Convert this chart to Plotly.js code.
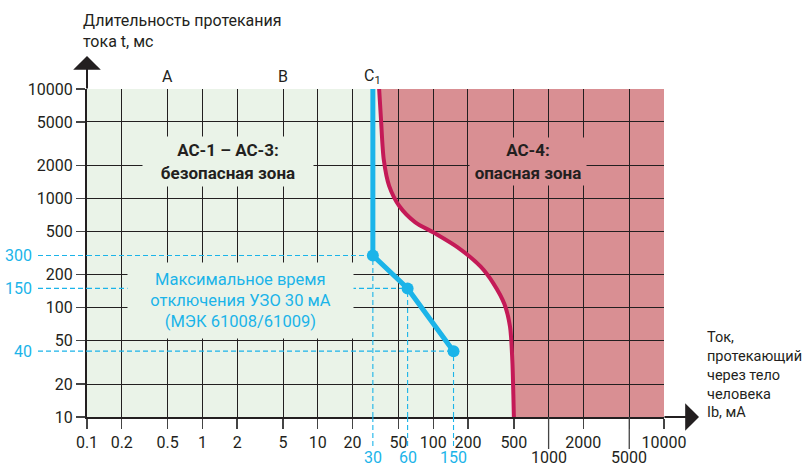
<!DOCTYPE html>
<html><head><meta charset="utf-8">
<script src="https://cdn.plot.ly/plotly-3.0.1.min.js"></script>
<style>html,body{margin:0;padding:0;background:#fff}#chart{width:803px;height:466px}</style>
</head><body><div id="chart"></div>
<script>
// ---- data ----
const xTickVals = [0.1, 0.2, 0.5, 1, 2, 5, 10, 20, 50, 100, 200, 500, 1000, 2000, 5000, 10000];
const xTickText = ['0.1', '0.2', '0.5', '1', '2', '5', '10', '20', '50', '100', '200', '500', '', '2000', '', '10000'];
const lowTickVals = [1000, 5000];
const lowTickText = ['1000', '5000'];
const yTickVals = [10, 20, 50, 100, 200, 500, 1000, 2000, 5000, 10000];
const yTickText = ['10', '20', '50', '100', '200', '500', '1000', '2000', '5000', '10000'];
const c1Current = [34, 35.3, 37.3, 41.5, 51, 70, 102, 163, 258, 332, 414, 463, 485, 495, 500];
const c1Time = [10000, 5250, 2250, 1300, 846, 603, 483, 356, 237, 167, 108, 67, 33, 16, 10];
const rcdCurrent = [30, 30, 60, 150];
const rcdTime = [10000, 300, 150, 40];
const markCurrent = [30, 60, 150];
const markTime = [300, 150, 40];
const markCurrentText = ['30', '60', '150'];
const markTimeText = ['300', '150', '40'];
const zoneLabelText = ['A', 'B', 'C<sub>1</sub>'];
const zoneLabelX = [0.5, 5, 30];
const X_RANGE = [0.1, 10000];
const Y_RANGE = [10, 10000];

// ---- style ----
const FONT = 'Roboto, "Liberation Sans", sans-serif';
const DARK = '#231f20';
const CYAN = '#1bb4e9';
const CRIMSON = '#c41a57';
const GREEN_BG = '#eaf3e8';
const RED_BG = '#d98f93';
const M = {l: 87, r: 139, t: 89, b: 49};
const PW = 803 - M.l - M.r, PH = 466 - M.t - M.b;
const px2x = px => (px - M.l) / PW;
const py2y = py => (466 - M.b - py) / PH;

const traces = [
  {x: c1Current, y: c1Time, mode: 'lines', line: {color: CRIMSON, width: 4, shape: 'spline', smoothing: 0.8}, hoverinfo: 'skip'},
  {x: rcdCurrent, y: rcdTime, mode: 'lines', line: {color: CYAN, width: 5}, hoverinfo: 'skip'},
  {x: markCurrent, y: markTime, mode: 'markers', marker: {color: CYAN, size: 12}, cliponaxis: false, hoverinfo: 'skip'}
];

// red (dangerous) zone to the right of curve c1
let zonePath = 'M' + c1Current[0] + ',' + Y_RANGE[1];
for (let i = 0; i < c1Current.length; i++) zonePath += ' L' + c1Current[i] + ',' + c1Time[i];
zonePath += ' L' + X_RANGE[1] + ',' + Y_RANGE[0] + ' L' + X_RANGE[1] + ',' + Y_RANGE[1] + ' Z';

const dash = {color: CYAN, width: 1.1, dash: '5px,3px'};
const shapes = [
  {type: 'path', xref: 'x', yref: 'y', path: zonePath, fillcolor: RED_BG, line: {width: 0}, layer: 'below'}
];
markCurrent.forEach((c, i) => {
  const t = markTime[i];
  shapes.push({type: 'line', xref: 'x', yref: 'y', x0: X_RANGE[0], x1: c, y0: t, y1: t, line: dash, layer: 'above'});
  shapes.push({type: 'line', xref: 'paper', yref: 'y', x0: px2x(38), x1: 0, y0: t, y1: t, line: dash, layer: 'above'});
  shapes.push({type: 'line', xref: 'x', yref: 'y', x0: c, x1: c, y0: Y_RANGE[0], y1: t, line: dash, layer: 'above'});
  shapes.push({type: 'line', xref: 'x', yref: 'paper', x0: c, x1: c, y0: 0, y1: py2y(448), line: dash, layer: 'above'});
});
lowTickVals.forEach(v => {
  shapes.push({type: 'line', xref: 'x', yref: 'paper', x0: v, x1: v, y0: 0, y1: py2y(449), line: {color: '#444', width: 1.3}});
});

const annotations = [];
// axis arrows
annotations.push({xref: 'paper', yref: 'paper', x: 0, y: py2y(56), ax: 0, ay: 34, text: '', showarrow: true,
  arrowhead: 1, arrowsize: 2.3, arrowwidth: 2, arrowcolor: DARK});
annotations.push({xref: 'paper', yref: 'paper', x: px2x(699), y: 0, ax: -36, ay: 0, text: '', showarrow: true,
  arrowhead: 1, arrowsize: 2.3, arrowwidth: 2, arrowcolor: DARK});
// y axis title (top left)
annotations.push({xref: 'paper', yref: 'paper', x: px2x(81), y: py2y(31), xanchor: 'left', yanchor: 'middle', align: 'left',
  showarrow: false, text: 'Длительность протекания<br>тока t, мс', font: {size: 16, color: DARK}});
// x axis title
annotations.push({xref: 'paper', yref: 'paper', x: px2x(705), y: py2y(375), xanchor: 'left', yanchor: 'middle', align: 'left',
  showarrow: false, text: 'Ток,<br>протекающий<br>через тело<br>человека<br>Ib, мА', font: {size: 14.5, color: DARK}});
// second-row tick labels
lowTickVals.forEach((v, i) => {
  annotations.push({xref: 'x', yref: 'paper', x: Math.log10(v), y: py2y(457), xanchor: 'center', yanchor: 'middle',
    showarrow: false, text: lowTickText[i], font: {size: 16, color: DARK}});
});
// zone labels at top
zoneLabelText.forEach((t, i) => {
  annotations.push({xref: 'x', yref: 'paper', x: Math.log10(zoneLabelX[i]), y: py2y(76), xanchor: 'center', yanchor: 'middle',
    showarrow: false, text: t, font: {size: 16, color: DARK}});
});
// cyan value labels
markTime.forEach((t, i) => {
  annotations.push({xref: 'paper', yref: 'y', x: px2x(34), y: Math.log10(t), xanchor: 'right', yanchor: 'middle',
    showarrow: false, text: markTimeText[i], font: {size: 16, color: CYAN}});
});
markCurrent.forEach((c, i) => {
  annotations.push({xref: 'x', yref: 'paper', x: Math.log10(c), y: py2y(457), xanchor: 'center', yanchor: 'middle',
    showarrow: false, text: markCurrentText[i], font: {size: 16, color: CYAN}});
});
// zone text boxes
annotations.push({xref: 'paper', yref: 'paper', x: px2x(228), y: py2y(161), xanchor: 'center', yanchor: 'middle',
  showarrow: false, width: 166, height: 45, borderpad: 2, bgcolor: GREEN_BG,
  text: '<b>AC-1 – AC-3:</b><br><b>безопасная зона</b>', font: {size: 17, color: DARK}});
annotations.push({xref: 'paper', yref: 'paper', x: px2x(528), y: py2y(161.5), xanchor: 'center', yanchor: 'middle',
  showarrow: false, width: 112, height: 43, borderpad: 2, bgcolor: RED_BG,
  text: '<b>AC-4:</b><br><b>опасная зона</b>', font: {size: 17, color: DARK}});
annotations.push({xref: 'paper', yref: 'paper', x: px2x(240), y: py2y(300.5), xanchor: 'center', yanchor: 'middle',
  showarrow: false, width: 221, height: 71, borderpad: 2, bgcolor: GREEN_BG,
  text: 'Максимальное время<br>отключения УЗО 30 мА<br>(МЭК 61008/61009)', font: {size: 16.5, color: CYAN}});

const axisCommon = {
  type: 'log', showgrid: true, gridcolor: DARK, gridwidth: 1, showline: true, linecolor: DARK, linewidth: 2,
  zeroline: false, ticks: 'outside', tickcolor: '#444', tickwidth: 1.3, fixedrange: true,
  tickfont: {size: 16, color: DARK}
};

const layout = {
  width: 803, height: 466, margin: {l: M.l, r: M.r, t: M.t, b: M.b, pad: 0},
  paper_bgcolor: '#ffffff', plot_bgcolor: GREEN_BG, showlegend: false,
  font: {family: FONT, size: 16, color: DARK},
  xaxis: Object.assign({}, axisCommon, {range: X_RANGE.map(Math.log10), tickvals: xTickVals, ticktext: xTickText,
    tickangle: 0, ticklen: 10}),
  yaxis: Object.assign({}, axisCommon, {range: Y_RANGE.map(Math.log10), tickvals: yTickVals, ticktext: yTickText,
    ticklen: 9}),
  shapes: shapes, annotations: annotations
};

Plotly.newPlot('chart', traces, layout, {displayModeBar: false, staticPlot: true});
</script></body></html>
